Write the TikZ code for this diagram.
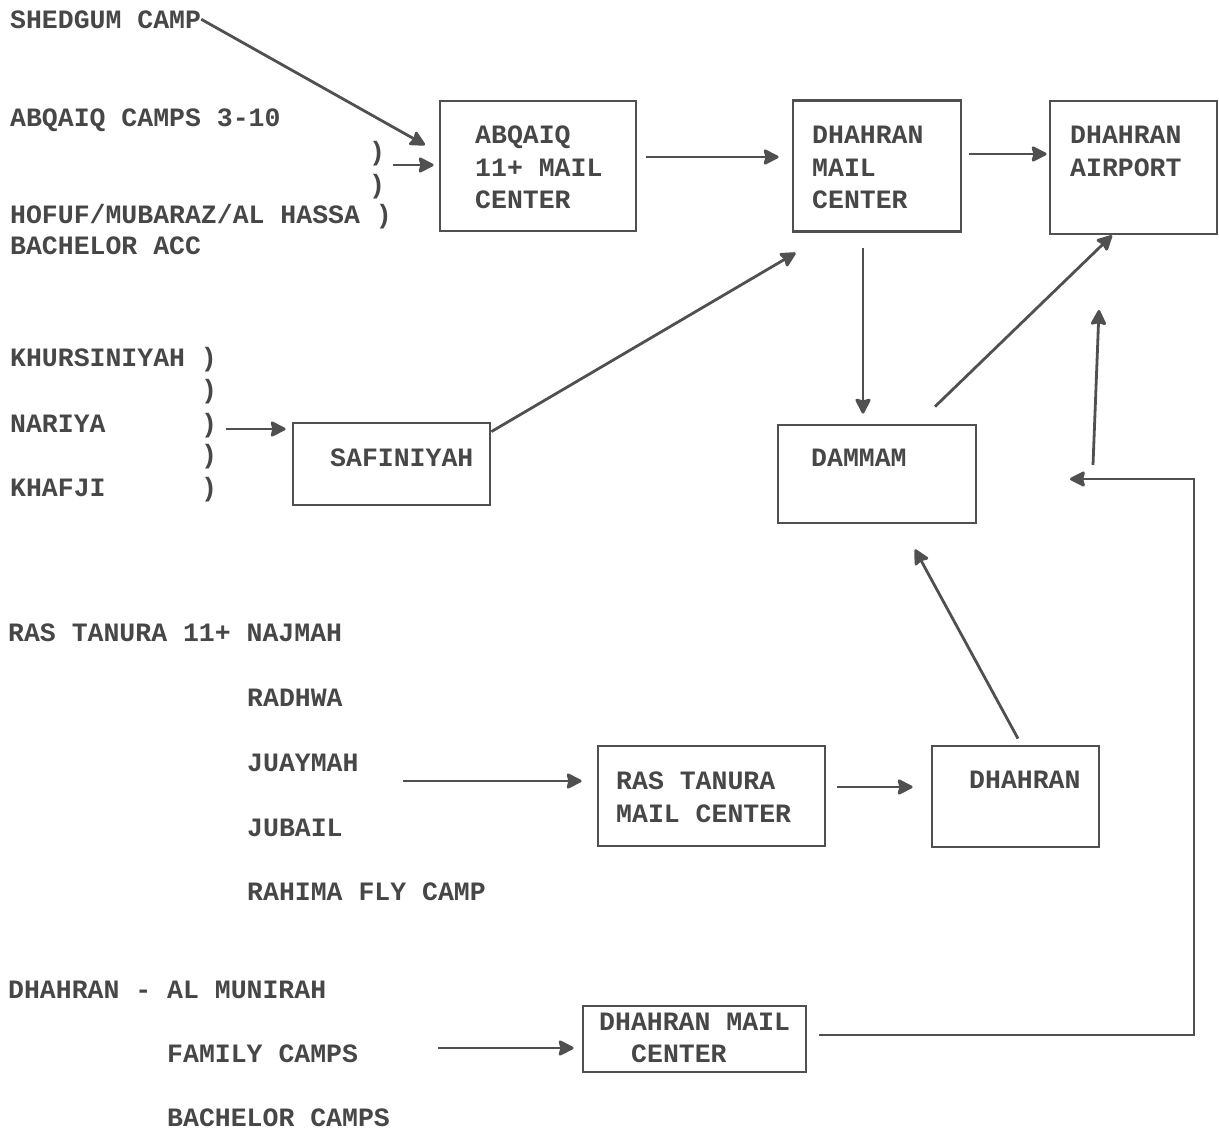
\documentclass[tikz,border=0pt]{standalone}
\usepackage{fontspec}
\usetikzlibrary{arrows.meta}
\newfontfamily\tw{Liberation Mono}
\definecolor{ink}{HTML}{474747}
\definecolor{inkline}{HTML}{505050}
\begin{document}
\begin{tikzpicture}[x=1pt,y=-1pt,
  lbl/.style={anchor=base west,inner sep=0pt,text=ink,font=\tw\bfseries\fontsize{26.5}{32.5}\selectfont},
  blbl/.style={anchor=north west,inner sep=0pt,text=ink,align=left,font=\tw\bfseries\fontsize{26.5}{32.5}\selectfont},
  box/.style={draw=inkline,line width=2.8pt,inner sep=0pt,rectangle},
  arr/.style={draw=inkline,line width=2.8pt,-{Stealth[length=17pt,width=17pt,inset=2pt,round]}},
  ln/.style={draw=inkline,line width=2.8pt}]
\useasboundingbox (0,0) rectangle (1219,1133);

% boxes
\node[box,minimum width=196pt,minimum height=130pt] (abq) at (538,166) {};
\node[box,minimum width=168pt,minimum height=131pt] (dmc) at (877,166) {};
\node[box,minimum width=167pt,minimum height=133pt] (apt) at (1133.5,167.5) {};
\node[box,minimum width=198pt,minimum height=98pt] (dam) at (877,474) {};
\node[box,minimum width=197pt,minimum height=82pt] (saf) at (391.5,464) {};
\node[box,minimum width=227pt,minimum height=100pt] (rtm) at (711.5,796) {};
\node[box,minimum width=167pt,minimum height=101pt] (dha) at (1015.5,796.5) {};
\node[box,minimum width=223pt,minimum height=66pt] (dmb) at (694.5,1039) {};

% box texts
\node[blbl] (tabq) at (475,126) {ABQAIQ\\11+ MAIL\\CENTER};
\node[blbl] (tdmc) at (812,126) {DHAHRAN\\MAIL\\CENTER};
\node[blbl] (tapt) at (1070,126) {DHAHRAN\\AIRPORT};
\node[lbl] (tdam) at (811,466) {DAMMAM};
\node[lbl] (tsaf) at (330,466) {SAFINIYAH};
\node[blbl] (trtm) at (616,772) {RAS TANURA\\MAIL CENTER};
\node[lbl] (tdha) at (969,788) {DHAHRAN};
\node[lbl] (tdmb1) at (599,1030) {DHAHRAN MAIL};
\node[lbl] (tdmb2) at (631,1062) {CENTER};

% left texts
\node[lbl] (shed) at (10,28) {SHEDGUM CAMP};
\node[lbl] (abqc) at (10,126) {ABQAIQ CAMPS 3-10};
\node[lbl] (p1) at (369,160) {)};
\node[lbl] (p2) at (369,193) {)};
\node[lbl] (hof) at (10,223) {HOFUF/MUBARAZ/AL HASSA )};
\node[lbl] (bach) at (10,254) {BACHELOR ACC};

\node[lbl] (khur) at (10,366) {KHURSINIYAH )};
\node[lbl] (p3) at (201,398) {)};
\node[lbl] (nar) at (10,432) {NARIYA};
\node[lbl] (p4) at (201,432) {)};
\node[lbl] (p5) at (201,463) {)};
\node[lbl] (khaf) at (10,496) {KHAFJI};
\node[lbl] (p6) at (201,496) {)};

\node[lbl] (ras) at (8,641) {RAS TANURA 11+ NAJMAH};
\node[lbl] (rad) at (247,706) {RADHWA};
\node[lbl] (jua) at (247,771) {JUAYMAH};
\node[lbl] (jub) at (247,836) {JUBAIL};
\node[lbl] (rah) at (247,900) {RAHIMA FLY CAMP};

\node[lbl] (mun) at (8,998) {DHAHRAN - AL MUNIRAH};
\node[lbl] (fam) at (167,1062) {FAMILY CAMPS};
\node[lbl] (bcamps) at (167,1126) {BACHELOR CAMPS};

% free arrow ends
\coordinate (shedT) at (425,145);
\coordinate (abqS) at (393,165);
\coordinate (kS) at (226,429);
\coordinate (rS) at (403,781);
\coordinate (fS) at (438,1048);
\coordinate (upS) at (1093,465);
\coordinate (upT) at (1099,310);
\coordinate (c1) at (1194,479);
\coordinate (c2) at (1070,479);

% connectors
\draw[arr] (shed.east) -- (shedT);
\draw[arr,shorten >=5pt] (abqS) -- (abq.west |- abqS);
\draw[arr,shorten <=9pt,shorten >=13pt] ([yshift=9pt]abq.east) -- ([yshift=9pt]dmc.west);
\draw[arr,shorten <=7pt,shorten >=2pt] ([yshift=12pt]dmc.east) -- ([yshift=12pt]dmc.east -| apt.west);
\draw[arr,shorten <=15pt,shorten >=10pt] ([xshift=-14pt]dmc.south) -- ([xshift=-14pt]dam.north);
\draw[arr] ([shift={(58pt,17pt)}]dam.north) -- ([xshift=-21.5pt]apt.south);
\draw[arr] (upS) -- (upT);
\draw[arr] ([shift={(12pt,4pt)}]dmb.east) -| (c1) -- (c2);
\draw[arr] ([yshift=-10pt]saf.north east) -- ([shift={(4pt,-20pt)}]dmc.south west);
\draw[arr,shorten >=6pt] (kS) -- (saf.west |- kS);
\draw[arr,shorten >=15pt] (rS) -- (rtm.west |- rS);
\draw[arr,shorten <=11pt,shorten >=18pt] ([yshift=9pt]rtm.east) -- ([yshift=9pt]rtm.east -| dha.west);
\draw[arr] ([shift={(2.5pt,6pt)}]dha.north) -- ([shift={(38pt,-25pt)}]dam.south);
\draw[arr,shorten >=8pt] (fS) -- (dmb.west |- fS);
\end{tikzpicture}
\end{document}
